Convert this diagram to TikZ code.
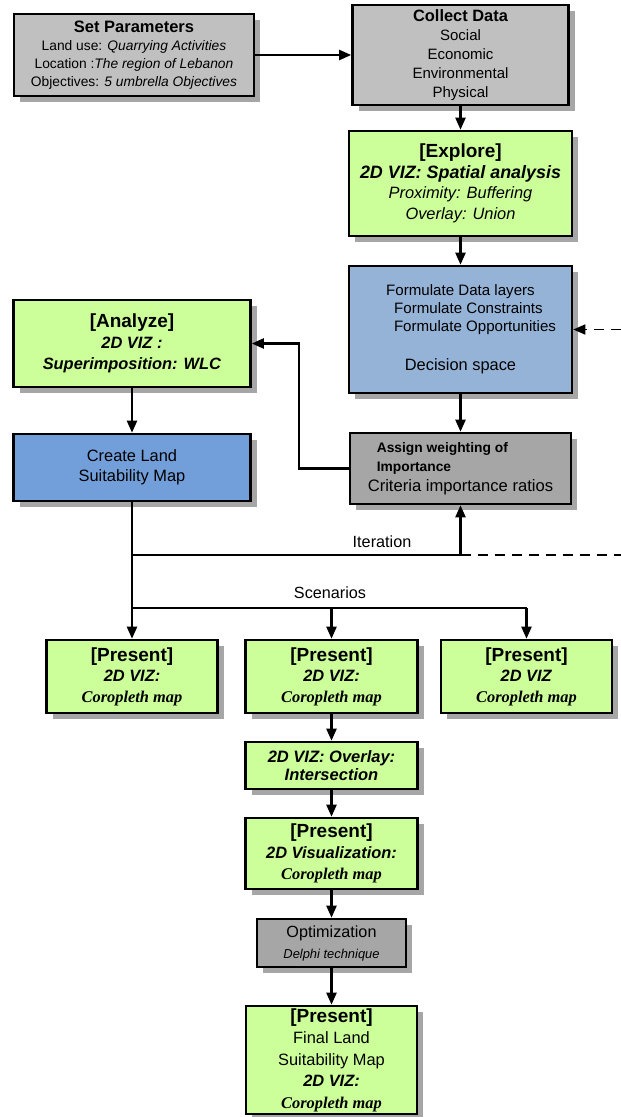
\documentclass[tikz,border=0pt]{standalone}
\usepackage{fontspec}
\setmainfont{Liberation Sans}
\newfontfamily\tnr{Liberation Serif}
\usepackage{xcolor}
\usepackage{tikz}
\usetikzlibrary{arrows.meta,shadows}

\definecolor{paleGrey}{HTML}{C0C0C0}
\definecolor{midGrey}{HTML}{A6A6A6}
\definecolor{vizGreen}{HTML}{CCFF99}
\definecolor{spaceBlue}{HTML}{95B3D7}
\definecolor{mapBlue}{HTML}{729FDA}

\newcommand\stage[1]{{\fontsize{19}{20}\selectfont\bfseries[#1]}}
\newcommand\vizb[1]{\textbf{\textit{#1}}}
\newcommand\coro{{\tnr\bfseries\itshape Coropleth map}}

\begin{document}
\begin{tikzpicture}[x=1pt, y=-1pt,
  box/.style={draw, line width=2.6pt, fill=#1, align=center, inner sep=1pt,
    font=\fontsize{16.4}{20}\selectfont,
    drop shadow={shadow xshift=6pt, shadow yshift=-6pt, fill=black!35, opacity=1}},
  arr/.style={-{Triangle[length=12pt,width=10pt]}, line width=2.2pt},
  link/.style={line width=2.2pt},
  feed/.style={line width=1.6pt, dash pattern=on 10pt off 7pt},
  lbl/.style={font=\fontsize{16.2}{18}\selectfont, inner sep=0pt}
]
  \useasboundingbox (0,0) rectangle (621,1117);

  % ===== TOP ROW =====
  \node[box=paleGrey, minimum width=240pt, minimum height=82pt,
    font=\fontsize{13.8}{18}\selectfont] (setp) at (134,55)
    {{\fontsize{16.5}{18}\selectfont\bfseries Set Parameters}\\
     Land use: \textit{Quarrying Activities}\\
     Location :\textit{The region of Lebanon}\\
     Objectives: \textit{5 umbrella Objectives}};
  \node[box=paleGrey, minimum width=216pt, minimum height=100pt,
    font=\fontsize{15}{19}\selectfont] (collect) at (460.5,55)
    {{\fontsize{16.4}{19}\selectfont\bfseries Collect Data}\\ Social\\ Economic\\ Environmental\\ Physical};

  % right column
  \node[box=vizGreen, minimum width=223pt, minimum height=105pt,
    font=\fontsize{16.4}{20.5}\selectfont] (explore) at (460.5,183.5)
    {\stage{Explore}\\
     {\fontsize{17.9}{20}\selectfont\bfseries\itshape 2D VIZ: Spatial analysis}\\
     \textit{Proximity: Buffering}\\ \textit{Overlay: Union}};
  \node[box=spaceBlue, minimum width=223pt, minimum height=127pt,
    font=\fontsize{15.1}{18}\selectfont] (decision) at (460.5,329.5)
    {Formulate Data layers\\ \hspace*{16pt}Formulate Constraints\\
     \hspace*{29pt}Formulate Opportunities\\[21pt]
     {\fontsize{16.4}{18}\selectfont Decision space}};
  \node[box=midGrey, minimum width=221pt, minimum height=71pt, align=left,
    font=\fontsize{16.6}{19.5}\selectfont] (assign) at (460.5,468.5)
    {\hspace*{9pt}{\fontsize{13.8}{19.5}\selectfont\bfseries Assign weighting of}\\
     \hspace*{9pt}{\fontsize{13.8}{19.5}\selectfont\bfseries Importance}\\
     Criteria importance ratios};

  % left column
  \node[box=vizGreen, minimum width=237pt, minimum height=87pt,
    font=\fontsize{16.4}{21}\selectfont] (analyze) at (132,343.5)
    {\stage{Analyze}\\ \vizb{2D VIZ :}\\ \vizb{Superimposition: WLC}};
  \node[box=mapBlue, minimum width=237pt, minimum height=67pt] (create) at (132,467.5)
    {Create Land\\ Suitability Map};

  % ===== SCENARIOS =====
  \node[box=vizGreen, minimum width=171pt, minimum height=73pt,
    font=\fontsize{16.4}{20.5}\selectfont] (presA) at (132,676.5)
    {\stage{Present}\\ \vizb{2D VIZ:}\\ \coro};
  \node[box=vizGreen, minimum width=172pt, minimum height=73pt,
    font=\fontsize{16.4}{20.5}\selectfont] (presB) at (331.5,676.5)
    {\stage{Present}\\ \vizb{2D VIZ:}\\ \coro};
  \node[box=vizGreen, minimum width=171pt, minimum height=73pt,
    font=\fontsize{16.4}{20.5}\selectfont] (presC) at (526.5,676.5)
    {\stage{Present}\\ \vizb{2D VIZ}\\ \coro};

  \node[box=vizGreen, minimum width=172pt, minimum height=47pt,
    font=\fontsize{16.5}{18}\selectfont] (overlay) at (331.5,765.5)
    {\vizb{2D VIZ: Overlay:}\\ \vizb{Intersection}};
  \node[box=vizGreen, minimum width=172pt, minimum height=71pt,
    font=\fontsize{16.4}{21}\selectfont] (presviz) at (331.5,853.5)
    {\stage{Present}\\ \vizb{2D Visualization:}\\ \coro};
  \node[box=midGrey, minimum width=149pt, minimum height=48pt,
    font=\fontsize{16.2}{21}\selectfont] (optim) at (331.5,943)
    {Optimization\\ {\fontsize{12.9}{21}\selectfont\itshape Delphi technique}};
  \node[box=vizGreen, minimum width=171pt, minimum height=108pt,
    font=\fontsize{16.4}{21.5}\selectfont] (final) at (331.5,1060)
    {\stage{Present}\\ Final Land\\ Suitability Map\\ \vizb{2D VIZ:}\\ \coro};

  % junctions
  \coordinate (inDec) at (621,329.5);
  \coordinate (itL) at (132,555);
  \coordinate (itR) at (460.5,555);
  \coordinate (itEnd) at (621,555);
  \coordinate (scL) at (132,608);
  \coordinate (scM) at (331.5,608);
  \coordinate (scR) at (526.5,608);

  \node[lbl] (iterlbl) at (382,542) {Iteration};
  \node[lbl] (scenlbl) at (330,593) {Scenarios};

  % connectors
  \draw[arr] (setp) -- (collect);
  \draw[arr] (collect) -- (explore);
  \draw[arr] (explore) -- (decision);
  \draw[arr] (decision) -- (assign);
  \draw[arr, feed] (inDec) -- (decision);
  \draw[arr] (assign.west) -- ++(-50,0) |- (analyze.east);
  \draw[arr] (analyze) -- (create);
  \draw[link] (create) -- (scL) -- (scR);
  \draw[arr] (itL) -- (itR) -- (assign);
  \draw[feed] (itR) -- (itEnd);
  \draw[arr] (scL) -- (presA);
  \draw[arr] (scM) -- (presB);
  \draw[arr] (scR) -- (presC);
  \draw[arr] (presB) -- (overlay);
  \draw[arr] (overlay) -- (presviz);
  \draw[arr] (presviz) -- (optim);
  \draw[arr] (optim) -- (final);
\end{tikzpicture}
\end{document}
